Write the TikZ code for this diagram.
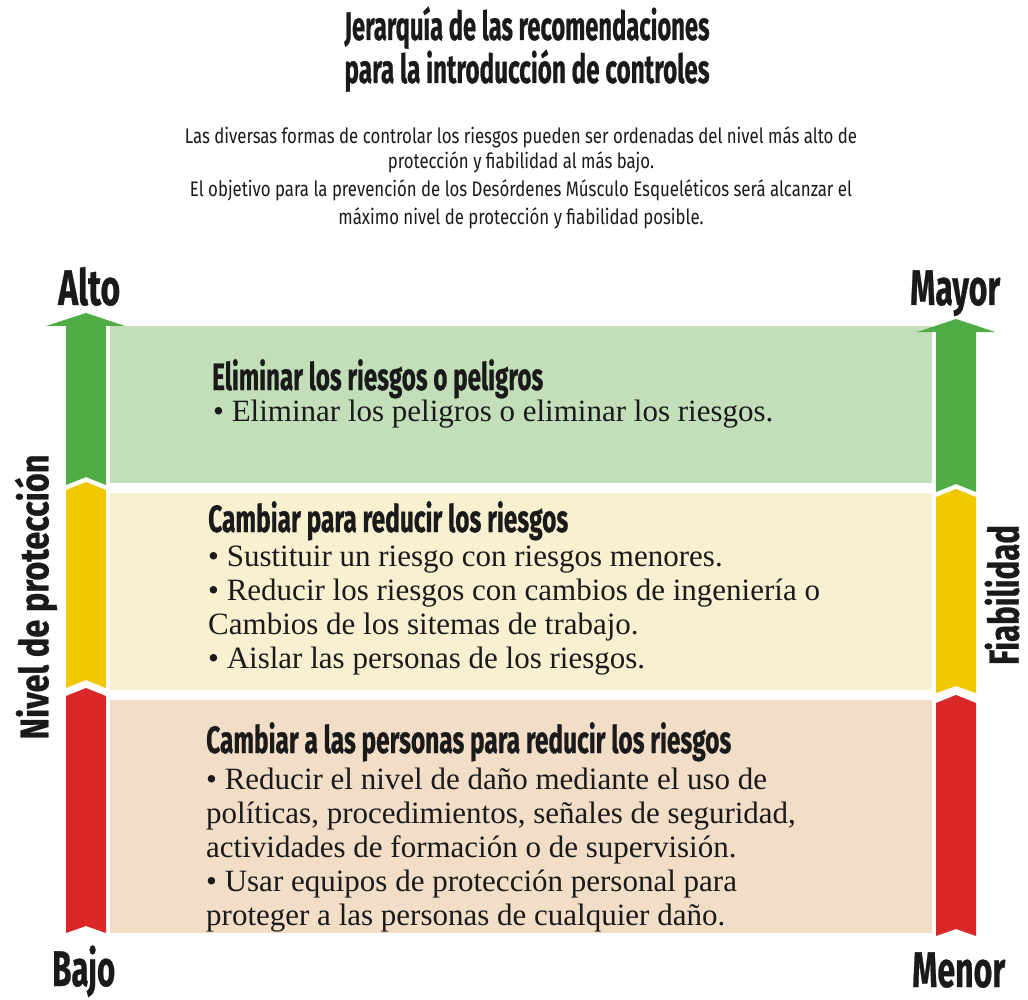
\documentclass[tikz,border=0pt]{standalone}
\usepackage{fontspec}
\usepackage{graphicx}
\setmainfont{Liberation Serif}
\newfontfamily\headf{Fira Sans}[FakeBold=0.8]
\newfontfamily\parf{Fira Sans}[FakeStretch=0.80]
\newcommand{\fitw}[2]{\resizebox{#1}{\height}{#2}}
\definecolor{ink}{HTML}{1A1A1A}
\definecolor{agreen}{HTML}{50AC44}
\definecolor{ayellow}{HTML}{F0C800}
\definecolor{ared}{HTML}{DA2828}
\definecolor{bgreen}{HTML}{C2DFBA}
\definecolor{byellow}{HTML}{F9F0D2}
\definecolor{bred}{HTML}{F2DDC6}
\tikzset{
  boxhead/.style={font=\headf\bfseries\fontsize{38}{42}\selectfont, inner sep=0, anchor=base west, text=ink},
  bodyline/.style={font=\fontsize{31}{34}\selectfont, inner sep=0, anchor=base west, text=ink},
  titleline/.style={font=\headf\bfseries\fontsize{40}{44}\selectfont, inner sep=0, anchor=base, text=ink},
  parline/.style={font=\parf\fontsize{21}{26}\selectfont, inner sep=0, anchor=base, text=ink},
  endlabel/.style={font=\headf\bfseries\fontsize{50}{56}\selectfont, inner sep=0, anchor=base west, text=ink},
  sidelabel/.style={font=\headf\bfseries\fontsize{40}{46}\selectfont, inner sep=0, anchor=center, rotate=90, text=ink},
}
\begin{document}
\begin{tikzpicture}[x=1pt,y=-1pt]
\useasboundingbox (0,0) rectangle (1028,1000);
\fill[white] (0,0) rectangle (1028,1000);

% title
\node[titleline] (t1) at (527,40) {\fitw{365pt}{Jerarquía de las recomendaciones}};
\node[titleline] (t2) at (527,83) {\fitw{365pt}{para la introducción de controles}};

% paragraph
\node[parline] (p1) at (521,144) {Las diversas formas de controlar los riesgos pueden ser ordenadas del nivel más alto de};
\node[parline] (p2) at (521,169) {protección y fiabilidad al más bajo.};
\node[parline] (p3) at (521,197) {El objetivo para la prevención de los Desórdenes Músculo Esqueléticos será alcanzar el};
\node[parline] (p4) at (521,225) {máximo nivel de protección y fiabilidad posible.};

% boxes
\fill[bgreen] (110,326) rectangle (932,483);
\fill[byellow] (110,493) rectangle (932,690);
\fill[bred] (110,700) rectangle (932,933);

% left arrow
\fill[agreen] (46,326) -- (86,313) -- (125,326) -- (106,326) -- (106,485) -- (86,477) -- (66,485) -- (66,326) -- cycle;
\fill[ayellow] (66,490) -- (86,482) -- (106,490) -- (106,688) -- (86,680) -- (66,688) -- cycle;
\fill[ared] (66,696) -- (86,688) -- (106,696) -- (106,933) -- (86,926) -- (66,933) -- cycle;

% right arrow
\fill[agreen] (917,332) -- (956,319) -- (995,332) -- (976,332) -- (976,492) -- (956,484) -- (936,492) -- (936,332) -- cycle;
\fill[ayellow] (936,497) -- (956,489) -- (976,497) -- (976,693) -- (956,686) -- (936,693) -- cycle;
\fill[ared] (936,703) -- (956,695) -- (976,703) -- (976,936) -- (956,929) -- (936,936) -- cycle;

% end labels
\node[endlabel] (alto) at (58,305) {\fitw{62pt}{Alto}};
\node[endlabel] (mayor) at (910,305) {\fitw{90pt}{Mayor}};
\node[endlabel] (bajo) at (52,986) {\fitw{63pt}{Bajo}};
\node[endlabel] (menor) at (912,987) {\fitw{93pt}{Menor}};

% side labels
\node[sidelabel] (nivel) at (36,597) {\fitw{285pt}{Nivel de protección}};
\node[sidelabel, font=\headf\bfseries\fontsize{42}{46}\selectfont] (fiab) at (1002,595) {\fitw{140pt}{Fiabilidad}};

% box 1
\node[boxhead] (h1) at (212,390) {\fitw{331pt}{Eliminar los riesgos o peligros}};
\node[bodyline] (b11) at (213,421) {• Eliminar los peligros o eliminar los riesgos.};

% box 2
\node[boxhead] (h2) at (208,532) {\fitw{360pt}{Cambiar para reducir los riesgos}};
\node[bodyline] (b21) at (208,566) {• Sustituir un riesgo con riesgos menores.};
\node[bodyline] (b22) at (208,600) {• Reducir los riesgos con cambios de ingeniería o};
\node[bodyline] (b23) at (208,634) {Cambios de los sitemas de trabajo.};
\node[bodyline] (b24) at (208,668) {• Aislar las personas de los riesgos.};

% box 3
\node[boxhead] (h3) at (206,753) {\fitw{525pt}{Cambiar a las personas para reducir los riesgos}};
\node[bodyline] (b31) at (206,789) {• Reducir el nivel de daño mediante el uso de};
\node[bodyline] (b32) at (206,823) {políticas, procedimientos, señales de seguridad,};
\node[bodyline] (b33) at (206,857) {actividades de formación o de supervisión.};
\node[bodyline] (b34) at (206,891) {• Usar equipos de protección personal para};
\node[bodyline] (b35) at (206,925) {proteger a las personas de cualquier daño.};
\end{tikzpicture}
\end{document}
